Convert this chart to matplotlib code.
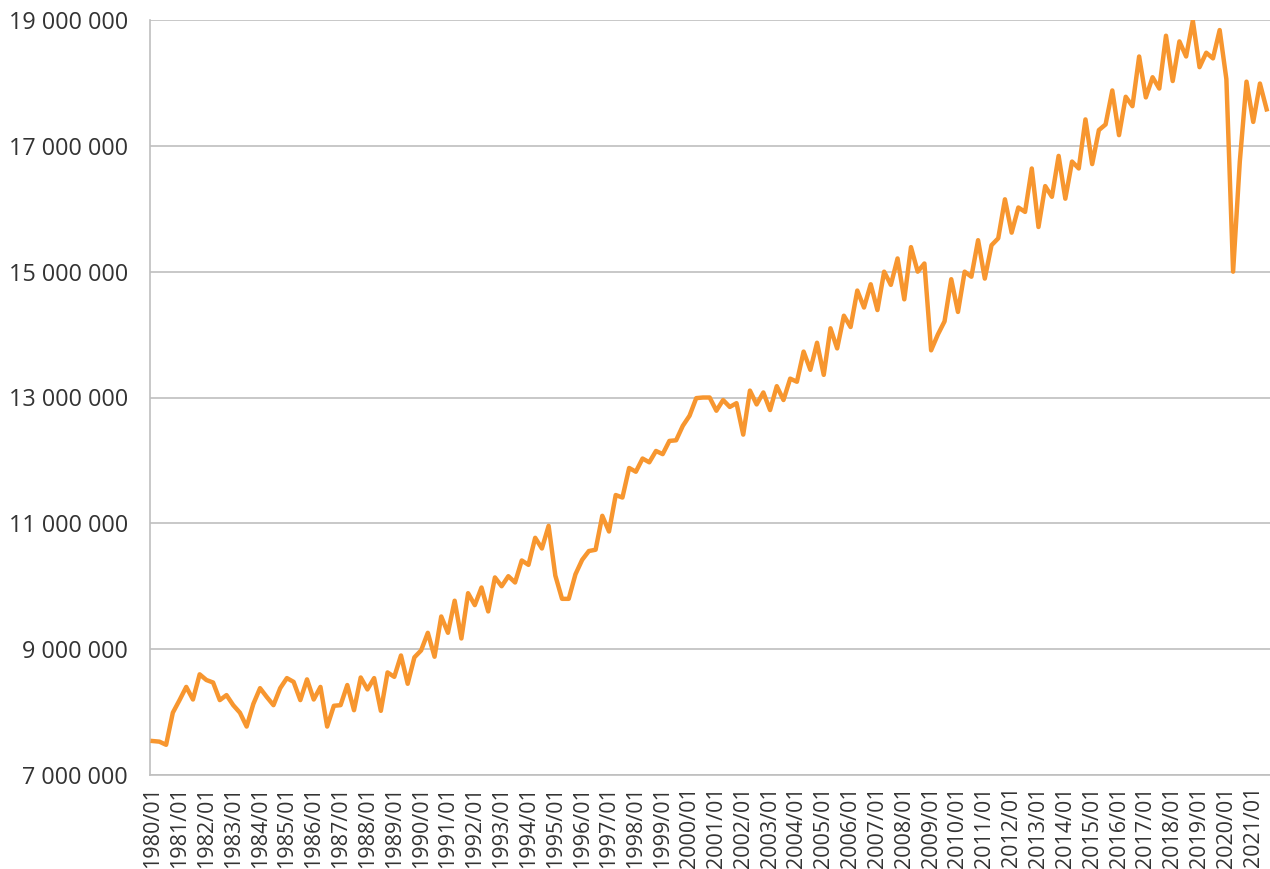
import matplotlib
matplotlib.use("Agg")
import matplotlib.pyplot as plt
from matplotlib.ticker import FuncFormatter

# Quarterly values, 1980 Q1 .. 2021 Q3
values = [
    7.54, 7.53, 7.48, 7.99, 8.19, 8.40, 8.20, 8.60, 8.51, 8.47,
    8.19, 8.27, 8.11, 7.99, 7.77, 8.13, 8.38, 8.24, 8.11, 8.38,
    8.54, 8.48, 8.19, 8.52, 8.20, 8.40, 7.77, 8.10, 8.11, 8.43,
    8.03, 8.55, 8.36, 8.54, 8.02, 8.63, 8.56, 8.90, 8.45, 8.87,
    8.98, 9.26, 8.88, 9.52, 9.26, 9.77, 9.17, 9.89, 9.70, 9.98,
    9.60, 10.14, 10.00, 10.16, 10.06, 10.41, 10.34, 10.77, 10.60, 10.96,
    10.17, 9.80, 9.80, 10.19, 10.42, 10.56, 10.58, 11.12, 10.87, 11.45,
    11.41, 11.88, 11.82, 12.03, 11.97, 12.15, 12.10, 12.31, 12.32, 12.55,
    12.71, 12.99, 13.00, 13.00, 12.79, 12.96, 12.85, 12.91, 12.41, 13.11,
    12.89, 13.08, 12.80, 13.18, 12.96, 13.30, 13.25, 13.73, 13.44, 13.87,
    13.36, 14.10, 13.78, 14.30, 14.12, 14.70, 14.43, 14.80, 14.39, 15.00,
    14.79, 15.21, 14.56, 15.39, 15.00, 15.13, 13.75, 14.00, 14.21, 14.88,
    14.36, 15.00, 14.92, 15.50, 14.89, 15.42, 15.53, 16.15, 15.62, 16.02,
    15.95, 16.64, 15.71, 16.36, 16.19, 16.84, 16.16, 16.75, 16.64, 17.42,
    16.71, 17.25, 17.34, 17.88, 17.17, 17.78, 17.63, 18.42, 17.77, 18.09,
    17.91, 18.75, 18.03, 18.66, 18.42, 18.99, 18.25, 18.48, 18.39, 18.84,
    18.06, 15.00, 16.75, 18.02, 17.38, 17.99, 17.58,
]
values = [v * 1_000_000 for v in values]
start_year = 1980
quarters = [f"{start_year + i // 4}/{(i % 4) * 3 + 1:02d}" for i in range(len(values))]
tick_labels = [f"{y}/01" for y in range(1980, 2022)]
y_ticks = [7_000_000, 9_000_000, 11_000_000, 13_000_000, 15_000_000, 17_000_000, 19_000_000]

plt.rcParams['font.family'] = ['Open Sans', 'DejaVu Sans']

fig = plt.figure(figsize=(12.70, 8.69), dpi=100)
ax = fig.add_axes([150/1270, 1 - 775/869, 1120/1270, 755/869])

x = list(range(len(values)))
ax.plot(x, values, color='#F7962F', lw=3.2, solid_joinstyle='round', zorder=3)

ax.set_ylim(7_000_000, 19_000_000)
ax.set_yticks(y_ticks)
ax.yaxis.set_major_formatter(FuncFormatter(lambda v, p: f"{int(round(v)):,}".replace(",", " ")))
ax.set_xlim(-0.4, 166.5)
tick_pos = [quarters.index(t) for t in tick_labels if t in quarters]
ax.set_xticks(tick_pos)
ax.set_xticklabels([quarters[i] for i in tick_pos], rotation=90)

ax.grid(axis='y', color='#BFBFBF', lw=1.2)
ax.set_axisbelow(True)
for s in ['top', 'right']:
    ax.spines[s].set_visible(False)
for s in ['left', 'bottom']:
    ax.spines[s].set_color('#BFBFBF')
    ax.spines[s].set_linewidth(1.2)
ax.tick_params(axis='both', length=0, colors='#333333')
ax.tick_params(axis='y', pad=16, labelsize=16.8)
ax.tick_params(axis='x', pad=8, labelsize=15.5)

fig.savefig("out.png", dpi=100)
